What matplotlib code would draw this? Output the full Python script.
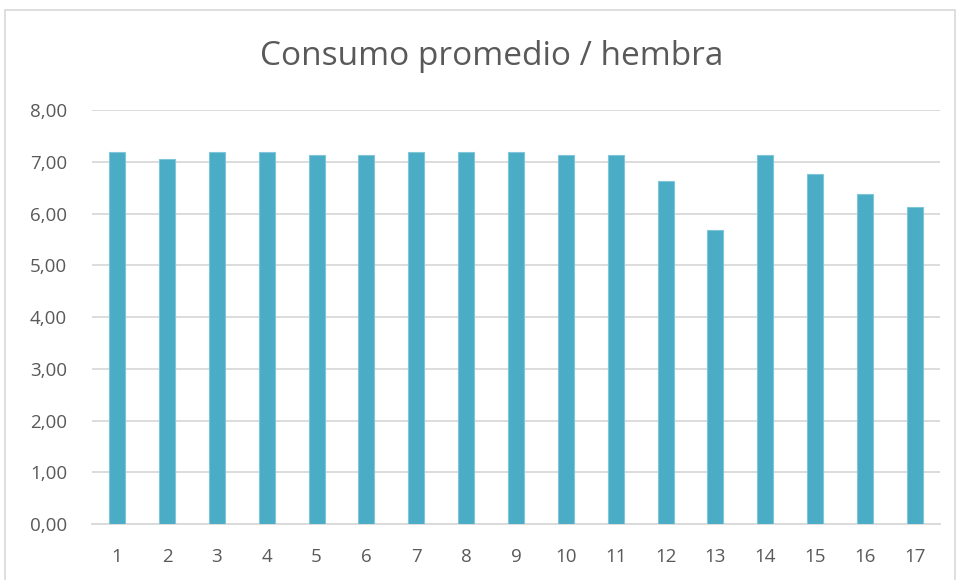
import matplotlib
matplotlib.use("Agg")
import matplotlib.pyplot as plt
from matplotlib.patches import Rectangle

# data
labels = [str(i) for i in range(1, 18)]
consumo = [7.19, 7.06, 7.19, 7.19, 7.13, 7.13, 7.19, 7.19, 7.19, 7.13,
           7.13, 6.63, 5.69, 7.13, 6.76, 6.38, 6.13]
yticks = [0, 1, 2, 3, 4, 5, 6, 7, 8]

plt.rcParams['font.family'] = ['Open Sans', 'DejaVu Sans']
txt = '#595959'

fig = plt.figure(figsize=(9.6, 5.8), dpi=100)
ax = fig.add_axes([0.096, 0.0966, 0.883, 0.7134])

ax.bar(labels, consumo, width=0.32, color='#4BACC6', edgecolor='#7fc6d9',
       linewidth=0.8, zorder=3)

ax.set_ylim(0, 8)
ax.set_xlim(-0.5, len(labels) - 0.5)
ax.set_yticks(yticks)
ax.set_yticklabels(['%d,00' % v for v in yticks])
ax.grid(axis='y', color='#d9d9d9', linewidth=1.3, zorder=0)
for s in ['top', 'right', 'left']:
    ax.spines[s].set_visible(False)
ax.spines['bottom'].set_color('#d9d9d9')
ax.spines['bottom'].set_linewidth(1.3)
ax.tick_params(axis='both', length=0, labelsize=13.5, labelcolor=txt)
ax.tick_params(axis='x', pad=17)
ax.tick_params(axis='y', pad=18)

fig.text(0.512, 0.903, 'Consumo promedio / hembra', ha='center', va='center',
         fontsize=24, color=txt)

# chart border
fig.patches.append(Rectangle((5 / 960, -0.05), 950 / 960, 1 - 10 / 580 + 0.05,
                             transform=fig.transFigure, fill=False,
                             edgecolor='#d9d9d9', linewidth=1.2))

plt.savefig('out.png', dpi=100)
plt.close()
